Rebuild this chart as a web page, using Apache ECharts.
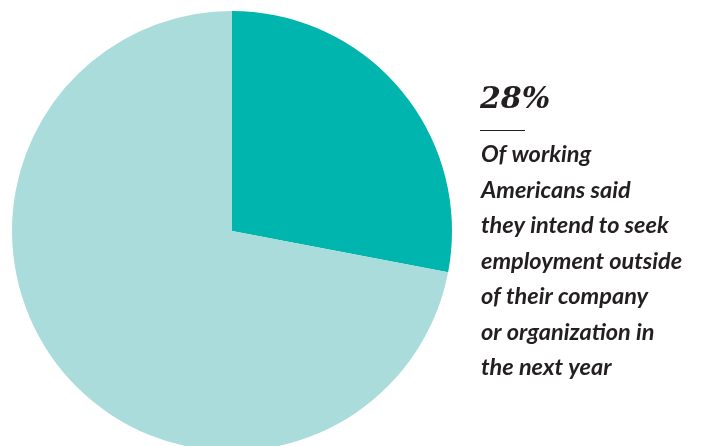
<!DOCTYPE html>
<html>
<head>
<meta charset="utf-8">
<style>
  html, body { margin: 0; padding: 0; background: #ffffff; }
  #chart { width: 706px; height: 446px; }
</style>
<script src="https://cdn.jsdelivr.net/npm/echarts@6/dist/echarts.min.js"></script>
</head>
<body>
<div id="chart"></div>
<script>
// Share of working Americans intending to leave their employer
const categories = ['Intend to seek employment elsewhere', 'Do not'];
const shares = [28, 72];
const sliceColors = ['#00b5ad', '#a9dcda'];

const headline = '28%';
// \u200C keeps the canvas from fusing "ti" into a ligature
const bodyLines = [
  'Of working',
  'Americans said',
  'they intend to seek',
  'employment outside',
  'of their company',
  'or organiza\u200Ction in',
  'the next year'
];

const chart = echarts.init(document.getElementById('chart'), null, { renderer: 'canvas' });

chart.setOption({
  animation: false,
  backgroundColor: '#ffffff',
  series: [{
    type: 'pie',
    center: [232, 231],
    radius: 220,
    startAngle: 90,
    clockwise: true,
    label: { show: false },
    labelLine: { show: false },
    emphasis: { disabled: true },
    itemStyle: { borderWidth: 0 },
    data: categories.map((name, i) => ({
      name,
      value: shares[i],
      itemStyle: { color: sliceColors[i] }
    }))
  }],
  graphic: [
    {
      type: 'text',
      left: 480,
      top: 85,
      style: {
        text: headline,
        font: 'italic bold 30px "DejaVu Serif"',
        fill: '#231f20'
      }
    },
    {
      type: 'line',
      shape: { x1: 480, y1: 130.5, x2: 525, y2: 130.5 },
      style: { stroke: '#231f20', lineWidth: 1 }
    },
    {
      type: 'text',
      left: 481,
      top: 137,
      style: {
        text: bodyLines.join('\n'),
        font: 'italic bold 23.5px Lato',
        lineHeight: 35.5,
        fill: '#231f20'
      }
    }
  ]
});
</script>
</body>
</html>
